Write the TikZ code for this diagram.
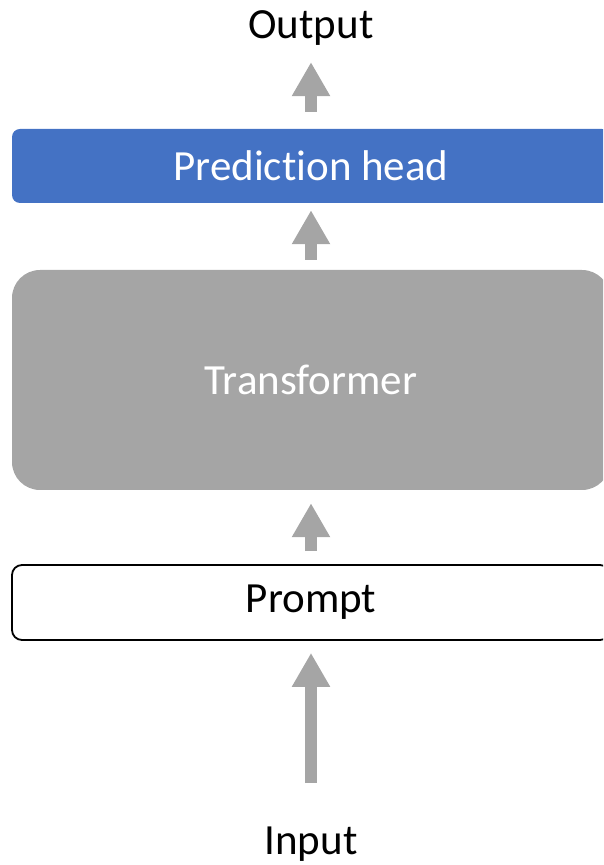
\documentclass[tikz,border=0pt]{standalone}
\usepackage{fontspec}
\setmainfont[Ligatures=NoCommon]{Carlito}
\usepackage{tikz}
\usetikzlibrary{arrows.meta}
\definecolor{headblue}{HTML}{4472C4}
\definecolor{blockgray}{HTML}{A5A5A5}
\tikzset{
  layer/.style={minimum width=598pt, inner sep=0pt, font=\fontsize{43}{50}\selectfont},
  endtext/.style={inner sep=0pt, anchor=base, font=\fontsize{43}{50}\selectfont},
  uparrow/.style={draw=blockgray, line width=11.5pt, -{Triangle[length=34pt,width=36pt]}}
}

\begin{document}
\begin{tikzpicture}[x=1pt,y=1pt]
        \useasboundingbox (0,0) rectangle (603,865);
        \clip (0,0) rectangle (603,865);
        % blocks, bottom to top
        \node[endtext] (input) at (311,10) {Input};
        \node[layer, draw=black, line width=1.8pt, fill=white, rounded corners=10pt, minimum height=75pt] (prompt) at (311,262.5) {Prompt};
        \node[layer, fill=blockgray, text=white, rounded corners=28pt, minimum height=220pt] (trans) at (311,485) {Transformer};
        \node[layer, fill=headblue, text=white, rounded corners=8pt, minimum height=74pt] (head) at (311,699) {Prediction head};
        \node[endtext] (output) at (311,826) {Output};
        % arrows
        \draw[uparrow, shorten <=44pt, shorten >=12pt] (input.north) -- (prompt.south);
        \draw[uparrow, shorten <=13pt, shorten >=13pt] (prompt.north) -- (trans.south);
        \draw[uparrow, shorten <=10pt, shorten >=7pt] (trans.north) -- (head.south);
        \draw[uparrow, shorten <=17pt, shorten >=16pt] (head.north) -- (output.south);
    \end{tikzpicture}
\end{document}
